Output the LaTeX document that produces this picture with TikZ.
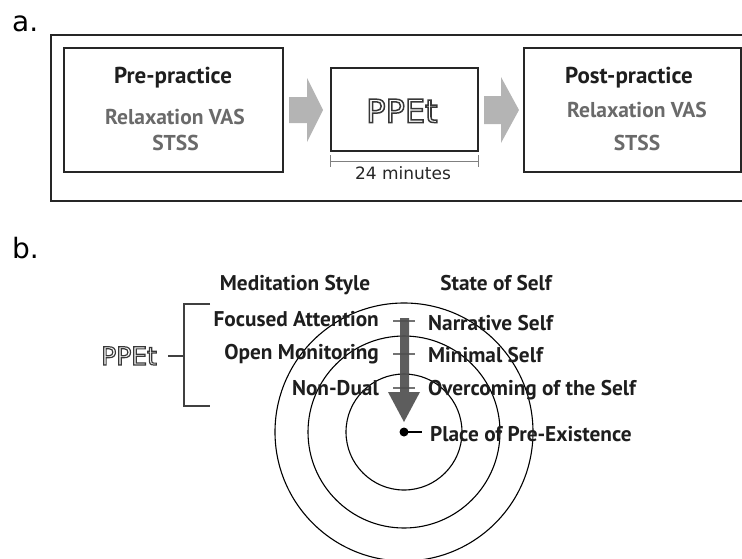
\documentclass[tikz,border=0pt]{standalone}
\usepackage{fontspec}
\setmainfont{PT Sans}
\newfontfamily\dejavu{DejaVu Sans}
\usetikzlibrary{calc}
\definecolor{subgray}{HTML}{6A6A6A}
\definecolor{blockgray}{HTML}{B4B4B4}
\definecolor{arrowgray}{HTML}{4F4F4F}
\definecolor{textdark}{HTML}{1E1E1E}
\tikzset{
  boxstyle/.style={draw=black!85, line width=1.6pt, inner sep=0},
  atitle/.style={font=\bfseries\fontsize{23}{26}\selectfont, text=textdark, inner sep=0, anchor=base},
  titletext/.style={font=\bfseries\fontsize{21.3}{24}\selectfont, text=textdark, inner sep=0, anchor=base},
  subtext/.style={font=\bfseries\fontsize{21.5}{24}\selectfont, text=subgray, inner sep=0, anchor=base},
  panellabel/.style={font=\dejavu\fontsize{28}{30}\selectfont, inner sep=0, anchor=base west},
  blockarrow/.style={fill=blockgray},
  ringstyle/.style={draw=black, line width=1.1pt},
  tickstyle/.style={draw=black!55, line width=1.5pt},
  bracketstyle/.style={draw=black!75, line width=1.4pt},
}
\newcommand{\outlinetext}[2]{\special{pdf:code q 1 Tr #1 w 0.22 G}#2\special{pdf:code Q}}
\begin{document}
\begin{tikzpicture}[x=1pt,y=-1pt]
\useasboundingbox (0,0) rectangle (742,558);
\clip (0,0) rectangle (742,558);

% ---------- panel a ----------
\node[panellabel] (la) at (12,31) {a.};
\node[draw=black!85, line width=1.6pt, inner sep=0, minimum width=700, minimum height=166, anchor=north west] (frame) at (50,34) {};

\node[boxstyle, minimum width=219, minimum height=124] (pre) at (173.5,110) {};
\node[boxstyle, minimum width=147, minimum height=83] (ppet) at (404.5,109.5) {};
\node[boxstyle, minimum width=217, minimum height=124] (post) at (632.5,110) {};

\node[atitle] (pretitle) at (173,83) {Pre-practice};
\node[subtext] (prevas) at (175,124.5) {Relaxation VAS};
\node[subtext] (prestss) at (175.5,150) {STSS};

\node[atitle] (posttitle) at (629,83) {Post-practice};
\node[subtext] (postvas) at (637,117) {Relaxation VAS};
\node[subtext] (poststss) at (637,150) {STSS};

\node[font=\dejavu\fontsize{32}{34}\selectfont, inner sep=0, anchor=base] (ppettext) at (402,122.5) {\outlinetext{1.5}{PPEt}};

% block arrows
\fill[blockarrow] (289,97) -- (307,97) -- (307,78) -- (323,110) -- (307,142) -- (307,123) -- (289,123) -- cycle;
\fill[blockarrow] (484,96) -- (501,96) -- (501,77) -- (519,110) -- (501,143) -- (501,124) -- (484,124) -- cycle;

% duration line
\coordinate (dl) at (ppet.south west |- 0,161);
\coordinate (dr) at (ppet.south east |- 0,161);
\draw[draw=black!50, line width=1pt] (dl) -- (dr);
\draw[draw=black!50, line width=1pt] ($(dl)+(0,-6)$) -- ($(dl)+(0,6)$);
\draw[draw=black!50, line width=1pt] ($(dr)+(0,-6)$) -- ($(dr)+(0,6)$);
\node[font=\dejavu\fontsize{17}{20}\selectfont, text=black!85, inner sep=0, anchor=base] (dur) at (403,179) {24 minutes};

% ---------- panel b ----------
\node[panellabel] (lb) at (12,258) {b.};

\node[titletext] (medstyle) at (295,290) {Meditation Style};
\node[titletext] (stateself) at (496,290) {State of Self};

% rings
\node[fill=black, circle, inner sep=0, minimum size=9] (core) at (404,432) {};
\draw[ringstyle] (core.center) circle[radius=58];
\draw[ringstyle] (core.center) circle[radius=96];
\draw[ringstyle] (core.center) circle[radius=129];

% ticks
\coordinate (t1) at (404,321);
\coordinate (t2) at (404,354);
\coordinate (t3) at (404,388);
\draw[tickstyle] ($(t1)+(-11,0)$) -- ($(t1)+(11,0)$);
\draw[tickstyle] ($(t2)+(-11,0)$) -- ($(t2)+(11,0)$);
\draw[tickstyle] ($(t3)+(-11,0)$) -- ($(t3)+(11,0)$);

% big arrow
\fill[arrowgray, opacity=0.92] (400,318) -- (409,318) -- (409,392) -- (420,392) -- (404,422) -- (388,392) -- (400,392) -- cycle;

\node[titletext, anchor=base east] (fa) at (379,326.5) {Focused Attention};
\node[titletext, anchor=base east] (om) at (379,359.5) {Open Monitoring};
\node[titletext, anchor=base east] (nd) at (379,395.5) {Non-Dual};

\node[titletext, anchor=base west] (ns) at (428,330) {Narrative Self};
\node[titletext, anchor=base west] (ms) at (428,362) {Minimal Self};
\node[titletext, anchor=base west] (os) at (428,395.5) {Overcoming of the Self};
\node[titletext, anchor=base west] (pp) at (430,441) {Place of Pre-Existence};

\coordinate (ppend) at (422,432);
\draw[draw=black, line width=1.3pt] (core.center) -- (ppend);

% bracket
\node[font=\dejavu\fontsize{25}{28}\selectfont, inner sep=0, anchor=base west] (ppetb) at (101,365) {\outlinetext{1.2}{PPEt}};
\coordinate (bt) at (184,304);
\coordinate (bb) at (184,406);
\coordinate (bm) at (184,356);
\draw[bracketstyle] ($(bt)+(26,0)$) -- (bt) -- (bb) -- ($(bb)+(26,0)$);
\draw[bracketstyle] ($(ppetb.east |- bm)+(11,0)$) -- (bm);
\end{tikzpicture}
\end{document}
